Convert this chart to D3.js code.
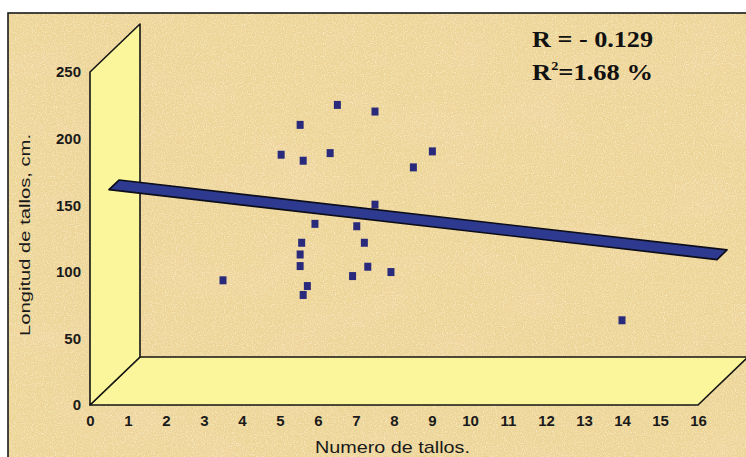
<!DOCTYPE html>
<html>
<head>
<meta charset="utf-8">
<script src="https://cdn.jsdelivr.net/npm/d3@7"></script>
<style>
  html, body { margin: 0; padding: 0; background: #fff; }
  svg { display: block; }
</style>
</head>
<body>
<svg id="chart" width="746" height="457"></svg>
<script>
// Stem count (x) and stem length in cm (y) for each plant
const stems   = [3.5, 5.03, 5.53, 5.53, 5.53, 5.57, 5.61, 5.61, 5.72, 5.92, 6.32, 6.51, 6.91, 7.02, 7.22, 7.31, 7.5, 7.5, 7.92, 8.51, 9.01, 14.0];
const lengths = [93.6, 187.9, 210.3, 113, 104.3, 121.8, 183.4, 82.6, 89.3, 136, 189.1, 225.3, 96.8, 134.2, 121.8, 103.8, 220.3, 150.4, 99.8, 178.4, 190.4, 63.6];

// Fitted regression line, evaluated at the ends of the x axis
const fitX = [0, 16];
const fitY = [148, 95.5];

// Axis ticks
const xTicks = d3.range(0, 17);
const yTicks = [0, 50, 100, 150, 200, 250];

const statR  = "R = - 0.129";
const statR2 = "1.68 %";

const svg = d3.select("#chart");
const W = 746, H = 457;

// Front plane of the 3-D box and the depth vector toward the back plane
const x = d3.scaleLinear().domain([0, 16]).range([90, 698]);
const y = d3.scaleLinear().domain([0, 250]).range([405, 72]);
const depth = { dx: 50, dy: -48 };
const at = (xv, yv, f) => [x(xv) + depth.dx * f, y(yv) + depth.dy * f];

// Grain for the paper-like background
const defs = svg.append("defs");
const grain = defs.append("filter").attr("id", "grain")
  .attr("x", 0).attr("y", 0).attr("width", "100%").attr("height", "100%");
grain.append("feTurbulence").attr("type", "fractalNoise")
  .attr("baseFrequency", 0.9).attr("numOctaves", 2).attr("seed", 4).attr("result", "n");
grain.append("feColorMatrix").attr("in", "n").attr("type", "matrix")
  .attr("values", "0 0 0 0 0.80  0 0 0 0 0.58  0 0 0 0 0.30  2.6 0 0 0 -1.3")
  .attr("result", "dark");
grain.append("feColorMatrix").attr("in", "n").attr("type", "matrix")
  .attr("values", "0 0 0 0 1  0 0 0 0 0.98  0 0 0 0 0.80  -2.6 0 0 0 1.3")
  .attr("result", "light");
const gm = grain.append("feMerge");
gm.append("feMergeNode").attr("in", "dark");
gm.append("feMergeNode").attr("in", "light");

const blotch = defs.append("filter").attr("id", "blotch")
  .attr("x", 0).attr("y", 0).attr("width", "100%").attr("height", "100%");
blotch.append("feTurbulence").attr("type", "fractalNoise")
  .attr("baseFrequency", "0.012 0.02").attr("numOctaves", 2).attr("seed", 9).attr("result", "n");
blotch.append("feColorMatrix").attr("in", "n").attr("type", "matrix")
  .attr("values", "0 0 0 0 0.93  0 0 0 0 0.70  0 0 0 0 0.48  3 0 0 0 -1.5");

// Page and chart-area background
svg.append("rect").attr("width", W).attr("height", H).attr("fill", "#ffffff");
svg.append("rect").attr("x", 8).attr("y", 13).attr("width", W).attr("height", H)
  .attr("fill", "#eed79a");
svg.append("rect").attr("x", 8).attr("y", 13).attr("width", W - 8).attr("height", H - 13)
  .attr("filter", "url(#blotch)").attr("opacity", 0.3);
svg.append("rect").attr("x", 8).attr("y", 13).attr("width", W - 8).attr("height", H - 13)
  .attr("filter", "url(#grain)").attr("opacity", 0.6);
svg.append("rect").attr("x", 8).attr("y", 13).attr("width", W + 20).attr("height", H + 20)
  .attr("fill", "none").attr("stroke", "#1a1a1a").attr("stroke-width", 1.6);

// Floor and side wall of the box
const wallFill = "#fbf69b", edge = "#151515";
const poly = pts => "M" + pts.map(p => p.join(",")).join("L") + "Z";
const yMin = yTicks[0], yMax = yTicks[yTicks.length - 1];
svg.append("path")
  .attr("d", poly([at(0, yMin, 0), at(16, yMin, 0), at(16, yMin, 1), at(0, yMin, 1)]))
  .attr("fill", wallFill).attr("stroke", edge).attr("stroke-width", 1.6).attr("stroke-linejoin", "round");
svg.append("path")
  .attr("d", poly([at(0, yMin, 0), at(0, yMax, 0), at(0, yMax, 1), at(0, yMin, 1)]))
  .attr("fill", wallFill).attr("stroke", edge).attr("stroke-width", 1.6).attr("stroke-linejoin", "round");

// Axes (labels only)
const fontSans = "'Liberation Sans', Arial, Helvetica, sans-serif";
const yAxis = svg.append("g").attr("transform", `translate(${x(0)},0)`)
  .call(d3.axisLeft(y).tickValues(yTicks).tickSize(0).tickPadding(9));
const xAxis = svg.append("g").attr("transform", `translate(0,${y(0)})`)
  .call(d3.axisBottom(x).tickValues(xTicks).tickSize(0).tickPadding(10).tickFormat(d3.format("d")));
[yAxis, xAxis].forEach(g => {
  g.select(".domain").remove();
  g.selectAll("text").attr("font-family", fontSans).attr("font-size", 15)
    .attr("font-weight", "bold").attr("fill", "#1a1a1a");
});

// Axis titles
svg.append("text")
  .attr("transform", "translate(30,235) rotate(-90)")
  .attr("text-anchor", "middle").attr("font-family", fontSans).attr("font-size", 15.5)
  .attr("textLength", 202).attr("lengthAdjust", "spacingAndGlyphs")
  .attr("fill", "#1a1a1a").text("Longitud de tallos, cm.");
svg.append("text")
  .attr("x", 392.5).attr("y", 453)
  .attr("text-anchor", "middle").attr("font-family", fontSans).attr("font-size", 17)
  .attr("textLength", 155).attr("lengthAdjust", "spacingAndGlyphs")
  .attr("fill", "#1a1a1a").text("Numero de tallos.");

// Observations
svg.append("g").selectAll("rect").data(stems.map((s, i) => [s, lengths[i]]))
  .join("rect")
  .attr("x", d => x(d[0]) - 3.5).attr("y", d => y(d[1]) - 4)
  .attr("width", 7).attr("height", 8)
  .attr("fill", "#2a2a7c");

// Regression line drawn as a ribbon with some depth
const f0 = 0.38, f1 = 0.58;
svg.append("path")
  .attr("d", poly([at(fitX[0], fitY[0], f0), at(fitX[1], fitY[1], f0),
                   at(fitX[1], fitY[1], f1), at(fitX[0], fitY[0], f1)]))
  .attr("fill", "#2d3a8f").attr("stroke", "#0d0d1a").attr("stroke-width", 1.7)
  .attr("stroke-linejoin", "round");

// Correlation statistics
const fontSerif = "'Liberation Serif', 'Times New Roman', serif";
const stats = svg.append("g").attr("font-family", fontSerif).attr("font-weight", "bold")
  .attr("font-size", 24).attr("fill", "#111");
stats.append("text").attr("x", 532).attr("y", 47)
  .attr("textLength", 121).attr("lengthAdjust", "spacingAndGlyphs").text(statR);
const t2 = stats.append("text").attr("x", 532).attr("y", 80)
  .attr("textLength", 121).attr("lengthAdjust", "spacingAndGlyphs");
t2.append("tspan").text("R");
t2.append("tspan").attr("font-size", 13).attr("dy", -10).text("2");
t2.append("tspan").attr("dy", 10).text("=" + statR2);
</script>
</body>
</html>
